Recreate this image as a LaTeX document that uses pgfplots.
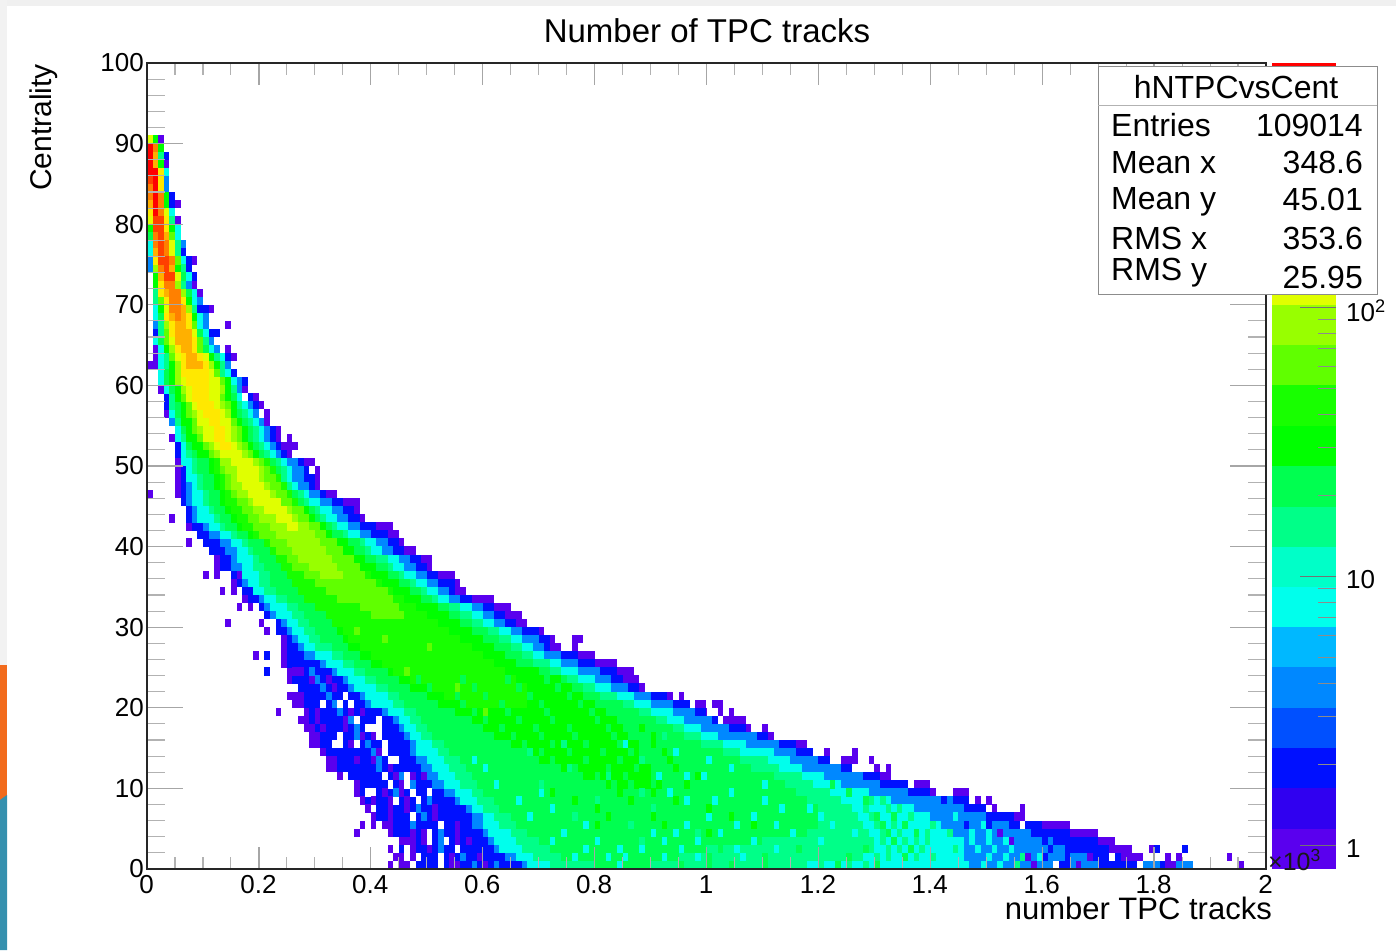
\documentclass[border=0pt]{standalone}
\usepackage{fontspec}
\setmainfont{Liberation Sans}
\usepackage{pgfplots}
\usepackage{pgfplotstable}
\pgfplotsset{compat=1.18}
\definecolor{lP}{HTML}{5A00EE}\definecolor{lPb}{HTML}{3000F0}\definecolor{lB}{HTML}{0010FF}\definecolor{lBb}{HTML}{0050FF}
\definecolor{lC}{HTML}{0088FF}\definecolor{lCb}{HTML}{00B8FF}\definecolor{lD}{HTML}{00FFEC}\definecolor{lDb}{HTML}{00FFC8}
\definecolor{lE}{HTML}{00FF88}\definecolor{lT}{HTML}{00FF50}\definecolor{lF}{HTML}{00FF00}\definecolor{lFb}{HTML}{18FF00}
\definecolor{lG}{HTML}{60FF00}\definecolor{lH}{HTML}{98FF00}\definecolor{lI}{HTML}{E0FF00}\definecolor{lJ}{HTML}{FFE800}
\definecolor{lK}{HTML}{FFB000}\definecolor{lL}{HTML}{FF8000}\definecolor{lM}{HTML}{FF4000}\definecolor{lN}{HTML}{FF0000}
\definecolor{slideO}{HTML}{F26B1D}\definecolor{slideT}{HTML}{3590AE}
\pgfplotstableread[row sep=\\]{y a b\\
90 0 3\\89 0 3\\88 0 4\\87 0 4\\86 0 4\\85 0 4\\84 0 4\\83 0 5\\82 0 6\\81 0 5\\80 0 6\\79 0 6\\78 0 6\\77 0 7\\76 0 7\\75 0 9\\74 0 8\\73 1 9\\72 1 9\\71 1 10\\70 1 10\\69 1 12\\68 1 11\\67 1 11\\67 14 15\\66 1 13\\65 1 12\\64 1 13\\64 14 15\\63 1 16\\62 0 15\\61 2 16\\60 2 18\\
59 2 18\\58 3 20\\57 3 21\\56 3 22\\55 4 22\\54 5 24\\53 5 24\\53 25 26\\53 4 5\\52 5 27\\51 5 26\\50 5 30\\49 5 31\\48 5 31\\47 5 31\\46 5 34\\46 0 1\\45 6 38\\44 7 38\\43 7 39\\43 4 5\\42 7 44\\41 9 45\\40 10 46\\40 7 8\\39 11 48\\38 12 51\\37 12 51\\36 15 55\\36 10 11\\36 12 13\\35 15 56\\34 17 57\\34 13 14\\34 15 16\\33 17 62\\32 20 65\\32 16 17\\32 18 19\\31 21 67\\30 23 68\\30 14 15\\30 20 21\\29 23 71\\29 21 22\\28 24 73\\28 76 78\\27 24 74\\27 76 77\\26 24 80\\26 19 20\\26 21 22\\25 24 84\\24 25 87\\24 21 22\\23 25 88\\22 27 89\\21 25 94\\21 95 96\\20 26 97\\20 98 100\\20 101 103\\19 28 100\\19 23 24\\19 102 103\\19 104 105\\18 27 102\\18 103 107\\17 28 108\\17 110 111\\16 29 112\\15 29 118\\14 31 119\\14 121 122\\14 126 127\\13 32 122\\13 124 127\\13 129 130\\12 32 126\\12 130 131\\12 132 133\\11 36 133\\11 34 35\\10 37 136\\10 137 140\\9 37 141\\9 144 147\\8 38 147\\8 148 149\\8 150 151\\7 39 150\\7 151 152\\7 156 157\\6 40 157\\5 42 165\\5 38 39\\4 43 170\\4 37 38\\3 45 173\\2 43 176\\1 44 178\\0 43 187\\
}\tP
\pgfplotstableread[row sep=\\]{y a b\\
90 0 2\\89 0 3\\88 0 4\\87 0 3\\86 0 4\\85 0 4\\84 0 4\\83 0 5\\82 0 5\\81 0 5\\80 0 5\\79 0 6\\78 0 6\\77 0 7\\76 0 7\\75 0 8\\74 0 8\\73 1 9\\72 1 8\\71 1 9\\70 1 10\\69 1 11\\68 1 11\\67 1 11\\66 1 13\\65 1 12\\64 2 13\\63 2 15\\62 2 15\\61 2 16\\60 2 18\\
59 3 17\\58 3 19\\57 3 20\\56 4 21\\55 4 21\\54 5 23\\53 5 23\\52 5 24\\51 5 25\\50 6 28\\49 6 29\\48 6 30\\47 6 30\\46 6 32\\45 6 35\\44 7 37\\43 7 38\\42 8 41\\41 9 43\\40 10 45\\39 11 46\\38 13 49\\37 13 50\\36 15 52\\35 16 55\\34 17 55\\33 18 58\\32 20 62\\31 21 64\\30 23 66\\29 23 70\\28 25 72\\27 25 72\\26 25 77\\25 25 80\\24 26 84\\23 26 85\\22 27 88\\21 28 93\\20 28 97\\19 29 100\\18 29 102\\17 29 107\\16 30 111\\15 31 116\\14 32 119\\13 33 122\\12 34 126\\11 36 131\\10 37 136\\9 38 140\\8 39 147\\7 40 150\\6 41 155\\5 43 160\\4 44 165\\3 46 170\\2 45 172\\1 46 175\\0 47 182\\
}\tB
\pgfplotstableread[row sep=\\]{y a b\\
90 0 2\\89 0 3\\88 0 3\\87 0 3\\86 0 4\\85 0 4\\84 0 4\\83 0 4\\82 0 4\\81 0 5\\80 0 5\\79 0 6\\78 0 6\\77 0 7\\76 0 6\\75 0 7\\74 0 7\\73 1 8\\72 1 8\\71 1 9\\70 1 10\\69 1 9\\68 1 11\\67 1 11\\66 2 11\\65 1 12\\64 2 13\\63 2 14\\62 2 15\\61 2 15\\60 2 17\\
59 3 17\\58 4 18\\57 4 19\\56 4 20\\55 4 21\\54 5 22\\53 5 22\\52 6 23\\51 6 24\\50 6 27\\49 7 28\\48 7 28\\47 7 29\\46 7 31\\45 7 33\\44 8 35\\43 8 36\\42 10 38\\41 11 40\\40 13 43\\39 14 44\\38 15 47\\37 15 48\\36 16 50\\35 17 52\\34 19 54\\33 20 56\\32 21 60\\31 22 62\\30 24 64\\29 25 67\\28 26 70\\27 27 71\\26 28 74\\25 31 77\\24 33 81\\23 35 83\\22 36 86\\21 38 90\\20 39 94\\19 42 98\\18 44 101\\17 45 104\\16 46 109\\15 47 113\\14 47 116\\13 48 120\\12 49 124\\11 50 128\\10 51 131\\9 53 136\\8 55 142\\7 57 146\\6 58 150\\5 58 154\\4 60 158\\3 61 162\\2 62 165\\1 64 168\\0 67 170\\
}\tC
\pgfplotstableread[row sep=\\]{y a b\\
90 0 2\\89 0 3\\88 0 3\\87 0 3\\86 0 4\\85 0 3\\84 0 3\\83 0 4\\82 0 4\\81 0 5\\80 0 5\\79 0 6\\78 0 6\\77 0 6\\76 0 6\\75 1 7\\74 1 7\\73 1 8\\72 1 7\\71 1 9\\70 1 9\\69 1 9\\68 1 10\\67 2 10\\66 2 11\\65 1 11\\64 2 12\\63 2 14\\62 2 14\\61 2 15\\60 2 16\\
59 3 16\\58 4 17\\57 4 18\\56 4 19\\55 5 20\\54 5 21\\53 5 21\\52 6 22\\51 6 23\\50 6 25\\49 7 26\\48 7 26\\47 8 27\\46 8 29\\45 8 31\\44 9 33\\43 9 34\\42 11 36\\41 13 38\\40 15 41\\39 16 42\\38 16 45\\37 17 46\\36 17 48\\35 18 50\\34 19 52\\33 21 54\\32 22 58\\31 23 60\\30 25 62\\29 26 65\\28 27 67\\27 28 69\\26 30 71\\25 32 74\\24 34 77\\23 36 80\\22 37 83\\21 39 87\\20 40 90\\19 43 94\\18 45 96\\17 46 99\\16 47 102\\15 48 107\\14 48 112\\13 50 115\\12 51 117\\11 52 121\\10 53 124\\9 55 129\\8 56 133\\7 58 137\\6 60 140\\5 60 142\\4 61 144\\3 62 146\\2 63 146\\1 66 146\\0 68 147\\
}\tD
\pgfplotstableread[row sep=\\]{y a b\\
90 0 2\\89 0 3\\88 0 3\\87 0 3\\86 0 3\\85 0 3\\84 0 3\\83 0 4\\82 0 4\\81 0 4\\80 0 5\\79 0 5\\78 0 5\\77 1 6\\76 1 6\\75 1 6\\74 1 7\\73 1 7\\72 1 7\\71 1 8\\70 1 8\\69 2 9\\68 2 9\\67 2 9\\66 2 10\\65 2 11\\64 3 11\\63 3 13\\62 3 14\\61 3 14\\60 3 15\\
59 4 16\\58 4 16\\57 4 17\\56 5 18\\55 5 19\\54 6 20\\53 6 20\\52 7 21\\51 7 22\\50 8 24\\49 8 25\\48 9 25\\47 9 26\\46 10 28\\45 10 29\\44 11 31\\43 12 32\\42 13 34\\41 15 36\\40 17 39\\39 18 40\\38 19 43\\37 19 44\\36 20 46\\35 20 48\\34 21 50\\33 23 52\\32 25 56\\31 26 58\\30 27 60\\29 28 63\\28 29 65\\27 30 67\\26 33 69\\25 35 72\\24 37 74\\23 39 77\\22 41 80\\21 43 84\\20 44 87\\19 46 90\\18 47 93\\17 48 96\\16 49 99\\15 51 103\\14 52 106\\13 53 111\\12 54 113\\11 55 117\\10 56 119\\9 58 122\\8 59 124\\7 60 126\\6 62 127\\5 63 128\\4 65 129\\3 66 130\\2 67 130\\1 69 128\\0 72 118\\
}\tE
\pgfplotstableread[row sep=\\]{y a b\\
90 0 2\\89 0 3\\88 0 2\\87 0 3\\86 0 3\\85 0 3\\84 0 3\\83 0 4\\82 0 4\\81 0 4\\80 0 4\\79 0 5\\78 0 5\\77 1 5\\76 1 5\\75 1 6\\74 1 6\\73 1 7\\72 1 6\\71 2 8\\70 2 8\\69 2 8\\68 2 9\\67 3 9\\66 3 10\\65 2 10\\64 3 11\\63 4 12\\62 4 13\\61 3 13\\60 3 15\\
59 4 15\\58 5 16\\57 5 16\\56 5 17\\55 6 18\\54 6 19\\53 7 19\\52 7 20\\51 8 21\\50 9 23\\49 9 24\\48 10 24\\47 10 25\\46 11 27\\45 11 28\\44 12 30\\43 13 31\\42 14 33\\41 16 35\\40 18 38\\39 19 39\\38 20 41\\37 21 43\\36 22 45\\35 22 47\\34 23 49\\33 25 51\\32 27 54\\31 28 56\\30 29 58\\29 30 61\\28 31 63\\27 33 65\\26 35 67\\25 37 69\\24 39 72\\23 41 75\\22 43 78\\21 45 81\\20 46 85\\19 48 88\\18 49 91\\17 50 94\\16 51 96\\15 53 99\\14 54 103\\13 56 106\\12 57 108\\11 58 112\\10 59 114\\9 60 116\\8 62 118\\7 63 120\\6 65 120\\5 66 120\\4 68 118\\3 70 110\\2 72 100\\1 74 95\\0 80 90\\
}\tT
\pgfplotstableread[row sep=\\]{y a b\\
90 0 2\\89 0 3\\88 0 2\\87 0 3\\86 0 3\\85 0 3\\84 0 3\\83 0 4\\82 0 4\\81 0 4\\80 0 4\\79 0 5\\78 1 5\\77 1 5\\76 1 5\\75 1 6\\74 1 6\\73 1 6\\72 1 6\\71 2 7\\70 2 8\\69 2 8\\68 3 9\\67 3 9\\66 3 9\\65 3 10\\64 3 10\\63 4 12\\62 4 13\\61 4 13\\60 4 15\\
59 5 15\\58 5 15\\57 6 16\\56 6 16\\55 6 17\\54 7 18\\53 7 18\\52 8 19\\51 9 20\\50 11 22\\49 11 23\\48 12 23\\47 12 24\\46 13 26\\45 13 27\\44 14 29\\43 15 30\\42 16 32\\41 18 33\\40 21 36\\39 22 37\\38 23 39\\37 24 41\\36 25 43\\35 26 45\\34 27 47\\33 28 49\\32 30 52\\31 32 54\\30 33 56\\29 34 58\\28 35 60\\27 36 62\\26 38 64\\25 40 66\\24 43 70\\23 45 74\\22 47 76\\21 50 78\\20 52 80\\19 55 82\\18 58 84\\17 60 85\\16 62 86\\15 65 88\\14 68 88\\13 70 90\\12 74 90\\11 78 92\\10 82 92\\
}\tF
\pgfplotstableread[row sep=\\]{y a b\\
50 12 22\\49 12 23\\48 13 24\\47 13 25\\46 14 26\\45 14 27\\44 15 28\\43 16 29\\42 17 30\\41 19 32\\40 21 34\\39 22 35\\38 23 36\\37 24 38\\36 25 40\\35 26 42\\34 27 44\\33 28 46\\32 30 48\\31 32 50\\30 33 52\\29 35 54\\28 36 56\\27 38 58\\26 40 60\\25 42 62\\24 44 64\\23 47 66\\22 50 68\\21 53 68\\20 56 68\\
}\tX
\pgfplotstableread[row sep=\\]{y a b\\
90 0 1\\89 0 2\\88 0 2\\87 0 2\\86 0 3\\85 0 3\\84 0 3\\83 0 3\\82 0 3\\81 0 4\\80 0 4\\79 1 4\\78 1 5\\77 1 5\\76 1 5\\75 1 6\\74 1 5\\73 2 6\\72 2 6\\71 2 7\\70 2 7\\69 3 8\\68 3 8\\67 3 9\\66 3 9\\65 3 10\\64 4 10\\63 4 11\\62 5 12\\61 5 13\\60 5 14\\
59 6 14\\58 6 14\\57 7 15\\56 7 15\\55 8 16\\54 8 17\\53 9 17\\52 10 18\\51 11 19\\50 13 21\\49 13 22\\48 14 23\\47 14 24\\46 15 25\\45 16 26\\44 17 28\\43 18 29\\42 19 31\\41 20 32\\40 22 34\\39 23 35\\38 25 37\\37 26 38\\36 28 39\\35 30 41\\34 32 43\\33 34 44\\32 38 45\\31 40 46\\
}\tG
\pgfplotstableread[row sep=\\]{y a b\\
90 0 1\\89 0 2\\88 0 2\\87 0 2\\86 0 3\\85 0 3\\84 0 3\\83 0 3\\82 0 3\\81 0 4\\80 0 4\\79 1 4\\78 1 4\\77 1 5\\76 1 5\\75 1 5\\74 1 5\\73 2 6\\72 2 6\\71 2 7\\70 3 7\\69 3 8\\68 3 8\\67 3 8\\66 4 9\\65 4 9\\64 4 9\\63 5 11\\62 5 12\\61 5 12\\60 5 13\\
59 6 14\\58 7 13\\57 8 14\\56 8 15\\55 9 15\\54 9 16\\53 10 16\\52 11 17\\51 12 18\\50 13 20\\49 14 21\\48 15 21\\47 15 22\\46 16 23\\45 18 24\\44 19 26\\43 20 27\\42 22 29\\41 23 30\\40 25 31\\39 26 32\\38 27 33\\37 29 34\\36 31 35\\
}\tH
\pgfplotstableread[row sep=\\]{y a b\\
90 0 1\\89 0 2\\88 0 2\\87 0 2\\86 0 3\\85 0 3\\84 0 3\\83 0 3\\82 0 3\\81 0 4\\80 0 4\\79 1 4\\78 1 4\\77 1 5\\76 1 5\\75 1 5\\74 2 5\\73 2 6\\72 2 5\\71 2 6\\70 3 7\\69 3 7\\68 3 8\\67 4 8\\66 4 9\\65 4 9\\64 5 9\\63 5 11\\62 6 11\\61 6 12\\60 6 13\\
59 7 13\\58 7 13\\57 8 13\\56 9 14\\55 9 15\\54 10 15\\53 10 15\\52 12 16\\51 13 17\\50 15 19\\49 16 20\\48 16 20\\47 17 21\\46 18 22\\45 19 24\\44 21 25\\43 23 26\\42 25 27\\
}\tI
\pgfplotstableread[row sep=\\]{y a b\\
89 0 2\\88 0 2\\87 0 2\\86 0 3\\85 0 3\\84 0 3\\83 0 3\\82 0 3\\81 0 3\\80 1 4\\79 1 4\\78 1 4\\77 1 4\\76 1 4\\75 1 5\\74 2 5\\73 2 5\\72 2 5\\71 2 6\\70 3 7\\69 4 7\\68 3 8\\67 4 8\\66 4 8\\65 5 9\\64 5 9\\63 6 10\\62 6 11\\61 6 11\\60 7 11\\
59 8 11\\58 8 11\\57 9 12\\56 10 13\\55 11 13\\54 12 14\\53 12 14\\52 13 15\\
}\tJ
\pgfplotstableread[row sep=\\]{y a b\\
89 0 2\\88 0 2\\87 0 2\\86 0 2\\85 0 2\\84 0 2\\83 0 3\\82 0 3\\81 1 3\\80 1 3\\79 1 3\\78 1 4\\77 1 4\\76 1 4\\75 2 5\\74 2 5\\73 2 5\\72 3 5\\71 3 6\\70 4 6\\69 4 7\\68 4 7\\67 5 7\\66 5 8\\65 5 8\\64 6 8\\63 7 9\\62 7 10\\
}\tK
\pgfplotstableread[row sep=\\]{y a b\\
89 0 2\\88 0 1\\87 0 1\\86 0 2\\85 0 2\\84 0 2\\83 0 3\\82 1 3\\81 1 3\\80 1 3\\79 1 3\\78 1 3\\77 1 4\\76 2 4\\75 2 5\\74 2 4\\73 3 5\\72 3 5\\71 4 6\\70 4 6\\69 4 6\\68 5 6\\
}\tL
\pgfplotstableread[row sep=\\]{y a b\\
89 0 1\\88 0 1\\87 0 1\\86 0 2\\85 0 2\\84 1 2\\83 1 2\\82 1 2\\81 1 2\\80 1 3\\79 1 3\\78 2 3\\77 2 3\\76 2 3\\75 2 4\\74 3 4\\73 3 5\\
}\tM
\pgfplotstableread[row sep=\\]{y a b\\
89 0 1\\88 0 1\\87 0 1\\86 0 2\\85 1 2\\84 1 2\\83 1 2\\82 1 2\\81 1 2\\
}\tN
% single cells
\pgfplotstableread[row sep=\\]{y a\\
23 30\\21 35\\20 34\\20 36\\20 31\\18 37\\17 39\\17 40\\18 41\\17 41\\16 41\\16 34\\15 33\\15 34\\15 37\\15 42\\14 42\\13 43\\13 44\\11 42\\10 43\\11 46\\10 46\\9 47\\8 48\\9 50\\9 39\\9 40\\8 44\\7 40\\6 47\\5 52\\4 50\\3 50\\3 53\\2 44\\2 46\\2 55\\1 46\\1 48\\1 52\\0 52\\0 44\\0 47\\0 162\\1 172\\0 177\\5 156\\58 17\\56 20\\49 29\\
}\sW
\pgfplotstableread[row sep=\\]{y a\\
24 26\\24 27\\23 29\\23 32\\22 33\\21 26\\21 27\\20 27\\19 30\\19 36\\19 38\\18 30\\18 35\\17 29\\17 31\\17 35\\16 30\\16 38\\16 40\\15 30\\15 36\\14 40\\14 41\\13 33\\13 37\\13 40\\12 32\\12 43\\11 44\\11 47\\11 49\\10 37\\10 45\\9 37\\9 42\\9 45\\8 38\\8 40\\8 43\\8 46\\7 39\\7 43\\7 46\\7 51\\6 40\\6 43\\6 51\\5 40\\5 43\\5 55\\4 43\\4 47\\4 49\\4 55\\3 46\\3 47\\3 49\\3 55\\3 57\\2 43\\2 47\\2 50\\1 44\\1 47\\1 54\\1 59\\0 43\\0 46\\0 54\\0 55\\0 60\\4 152\\3 154\\1 157\\0 158\\0 166\\4 166\\4 168\\3 170\\3 172\\1 168\\1 174\\1 175\\1 176\\2 179\\1 182\\1 184\\1 193\\0 195\\36 16\\41 22\\
}\sP
\pgfplotstableread[row sep=\\]{y a\\
2 180\\2 185\\2 161\\1 164\\2 164\\3 160\\3 163\\5 150\\1 160\\0 163\\0 164\\7 130\\26 21\\24 21\\4 134\\2 139\\5 146\\3 141\\
}\sB
\pgfplotstableread[row sep=\\]{y a\\
0 178\\0 179\\0 180\\0 184\\0 185\\0 186\\0 126\\0 124\\1 118\\4 131\\3 128\\6 134\\2 125\\2 142\\5 138\\4 141\\24 29\\23 30\\22 31\\21 32\\20 33\\19 34\\18 36\\17 37\\16 37\\15 39\\14 40\\13 41\\12 41\\11 45\\10 47\\9 44\\8 50\\7 48\\6 49\\5 47\\4 52\\3 52\\2 52\\1 56\\0 58\\0 62\\8 143\\7 141\\6 146\\3 144\\1 141\\0 144\\
}\sC
\pgfplotstableread[row sep=\\]{y a\\
11 96\\11 99\\11 91\\9 93\\9 104\\8 96\\8 101\\8 110\\7 113\\7 118\\6 100\\6 108\\6 120\\5 96\\5 105\\5 112\\5 122\\4 90\\4 94\\4 102\\4 115\\4 126\\3 92\\3 98\\3 108\\3 120\\2 88\\2 95\\2 105\\2 112\\1 85\\1 92\\1 98\\1 106\\12 60\\13 58\\10 62\\9 70\\8 66\\7 72\\6 68\\5 78\\4 74\\3 72\\3 80\\2 78\\2 84\\1 76\\1 82\\0 84\\13 100\\12 104\\10 110\\14 94\\15 85\\1 150\\1 153\\1 159\\2 148\\2 151\\2 154\\3 147\\3 150\\3 153\\4 147\\4 150\\0 149\\0 152\\5 149\\6 144\\
}\sD
\pgfplotstableread[row sep=\\]{y a\\
12 75\\11 82\\10 70\\9 88\\8 80\\7 90\\6 76\\5 86\\4 98\\3 88\\14 68\\13 88\\15 74\\16 92\\5 124\\6 136\\4 134\\1 156\\0 155\\3 135\\8 129\\8 131\\7 128\\7 132\\6 129\\5 130\\4 131\\3 131\\2 132\\2 134\\1 130\\1 132\\0 120\\0 125\\0 128\\3 137\\4 139\\2 138\\1 137\\5 133\\7 134\\5 140\\4 143\\2 144\\1 140\\3 139\\
}\sE
\pgfplotstableread[row sep=\\]{y a\\
6 130\\6 133\\5 131\\5 135\\4 132\\4 137\\3 133\\2 128\\2 136\\1 125\\1 135\\0 123\\0 130\\0 95\\0 100\\0 104\\1 88\\1 100\\1 110\\2 90\\2 102\\2 116\\0 110\\9 125\\8 128\\10 122\\
10 83\\10 86\\10 90\\11 80\\11 85\\11 90\\12 76\\12 82\\12 87\\13 72\\13 78\\13 84\\13 89\\14 70\\14 75\\14 81\\14 86\\15 67\\15 72\\15 78\\15 84\\16 65\\16 70\\16 76\\16 83\\17 63\\17 69\\17 75\\17 82\\18 60\\18 66\\18 72\\18 80\\19 58\\19 64\\19 71\\19 79\\20 56\\20 63\\20 70\\20 77\\21 55\\21 60\\21 68\\21 75\\22 50\\22 58\\22 66\\22 73\\23 48\\23 56\\23 64\\23 71\\
}\sT
\pgfplotstableread[row sep=\\]{y a\\
9 84\\9 90\\8 86\\8 94\\7 80\\7 100\\6 90\\6 104\\5 92\\5 108\\4 100\\10 96\\11 98\\12 94\\13 93\\14 92\\15 90\\16 90\\17 88\\5 80\\6 82\\8 76\\9 72\\
}\sF
\pgfplotstableread[row sep=\\]{y a\\
29 37\\27 50\\24 46\\28 42\\22 55\\19 60\\
}\sG
\newcommand{\lvl}[2]{\addplot[draw=none,mark=none,forget plot,error bars/.cd,x dir=both,x explicit,error mark=none,error bar style={line width=8.3pt,color=#1}] table[x expr=(\thisrow{a}+\thisrow{b})/200,y expr=\thisrow{y}+0.5,x error expr=(\thisrow{b}-\thisrow{a})/200]{#2};}
\newcommand{\cel}[2]{\addplot[draw=none,mark=none,forget plot,error bars/.cd,x dir=both,x explicit,error mark=none,error bar style={line width=8.3pt,color=#1}] table[x expr=(\thisrow{a}+0.5)/100,y expr=\thisrow{y}+0.5,x error expr=0.005]{#2};}
\newcommand{\band}[3]{\addplot[fill=#1,draw=none,forget plot] coordinates {(0,#2)(1,#2)(1,#3)(0,#3)} -- cycle;}
\begin{document}
\begin{tikzpicture}
\path[use as bounding box] (0,0) rectangle (1396pt,950pt);
% slide remnants
\fill[gray!12] (0,944pt) rectangle (1396pt,950pt);
\fill[gray!10] (0,285pt) rectangle (7pt,950pt);
\fill[slideO] (0,150pt) rectangle (7pt,285pt);
\fill[slideT] (0,0) -- (7pt,0) -- (7pt,155pt) -- (0,150pt) -- cycle;
\begin{axis}[at={(147pt,81pt)},anchor=south west,scale only axis,width=1119pt,height=806pt,
  xmin=0,xmax=2,ymin=0,ymax=100,axis on top,
  xtick=\empty,
  ytick={0,10,...,100},yticklabels={0,10,20,30,40,50,60,70,80,90,100},
  minor y tick num=4,
  tick pos=both,tick align=inside,
  major tick length=36pt,minor tick length=18pt,
  y tick style={draw=black!35,line width=1.3pt},
  minor y tick style={draw=black!30,line width=1.1pt},
  axis line style={draw=black!85,line width=2.5pt},
  yticklabel style={font=\fontsize{26}{30}\selectfont,inner sep=2pt,xshift=-1pt},
]
\lvl{lP}{\tP}\lvl{lB}{\tB}\lvl{lC}{\tC}\cel{white}{\sW}\cel{lP}{\sP}\cel{lB}{\sB}\cel{lC}{\sC}
\lvl{lD}{\tD}\lvl{lE}{\tE}\lvl{lT}{\tT}\lvl{lF}{\tF}\lvl{lFb}{\tX}\lvl{lG}{\tG}\lvl{lH}{\tH}\lvl{lI}{\tI}\lvl{lJ}{\tJ}\lvl{lK}{\tK}\lvl{lL}{\tL}\lvl{lM}{\tM}\lvl{lN}{\tN}
\cel{lD}{\sD}\cel{lE}{\sE}\cel{lT}{\sT}\cel{lF}{\sF}\cel{lG}{\sG}
\end{axis}
\begin{axis}[at={(147pt,81pt)},anchor=south west,scale only axis,width=1119pt,height=806pt,
  xmin=0,xmax=2,ymin=0,ymax=100,
  ytick=\empty,
  xtick={0,0.2,...,2},xticklabels={0,0.2,0.4,0.6,0.8,1,1.2,1.4,1.6,1.8,2},
  minor x tick num=3,
  tick pos=both,tick align=inside,
  major tick length=22pt,minor tick length=12pt,
  x tick style={draw=black!35,line width=1.3pt},
  minor x tick style={draw=black!30,line width=1.1pt},
  axis line style={draw=black!85,line width=2.5pt},
  xticklabel style={font=\fontsize{26}{30}\selectfont,inner sep=1pt,yshift=-5pt,xshift=-0.5pt},
]
\end{axis}
% palette
\begin{axis}[at={(1272pt,81pt)},anchor=south west,scale only axis,width=64pt,height=806pt,
  xmin=0,xmax=1,ymode=log,ymin=0.814,ymax=807,
  axis x line=none,axis y line*=right,axis on top,
  axis line style={draw=none},
  ytick={1,10,100},yticklabels={1,10,10\textsuperscript{2}},
  tick align=inside,major tick length=36pt,minor tick length=18pt,
  y tick style={draw=black!55,line width=0.8pt},
  minor y tick style={draw=black!45,line width=0.8pt},
  yticklabel style={font=\fontsize{26}{30}\selectfont,inner sep=2pt,xshift=8pt,yshift=-3.5pt},
]
\band{lP}{0.814}{1.149}\band{lPb}{1.149}{1.623}\band{lB}{1.623}{2.29}\band{lBb}{2.29}{3.23}\band{lC}{3.23}{4.57}
\band{lCb}{4.57}{6.45}\band{lD}{6.45}{9.10}\band{lDb}{9.10}{12.85}\band{lE}{12.85}{18.1}\band{lT}{18.1}{25.6}
\band{lF}{25.6}{36.2}\band{lFb}{36.2}{51.1}\band{lG}{51.1}{72.1}\band{lH}{72.1}{101.8}\band{lI}{101.8}{143.8}
\band{lJ}{143.8}{203}\band{lK}{203}{286.6}\band{lL}{286.6}{404.6}\band{lM}{404.6}{571}\band{lN}{571}{807}
\end{axis}
\node[anchor=west,inner sep=0pt,text=black!90,font=\fontsize{25}{28}\selectfont] at (1268pt,90pt) {×10\textsuperscript{3}};
% stats box
\draw[draw=black!45,fill=white,line width=1pt] (1098pt,655pt) rectangle (1377pt,883pt);
\draw[draw=black!30,line width=1pt] (1098pt,844pt) -- (1377pt,844pt);
\node[anchor=base,font=\fontsize{32}{36}\selectfont,inner sep=0pt] at (1236pt,851pt) {hNTPCvsCent};
\foreach \yl/\yr/\l/\v in {813/813/Entries/109014,776/776/Mean x/348.6,740/739/Mean y/45.01,700/700/RMS x/353.6,669/661/RMS y/25.95}{
  \node[anchor=base west,font=\fontsize{32}{36}\selectfont,inner sep=0pt] at (1111pt,\yl pt) {\l};
  \node[anchor=base east,font=\fontsize{32}{36}\selectfont,inner sep=0pt] at (1363pt,\yr pt) {\v};
}
% titles
\node[font=\fontsize{33}{38}\selectfont,inner sep=0pt] at (707pt,919pt) {Number of TPC tracks};
\node[anchor=east,font=\fontsize{31}{36}\selectfont,inner sep=0pt] at (1272pt,42pt) {number TPC tracks};
\node[rotate=90,anchor=east,font=\fontsize{30}{34}\selectfont,inner sep=0pt] at (43.5pt,886pt) {Centrality};
\end{tikzpicture}
\end{document}
